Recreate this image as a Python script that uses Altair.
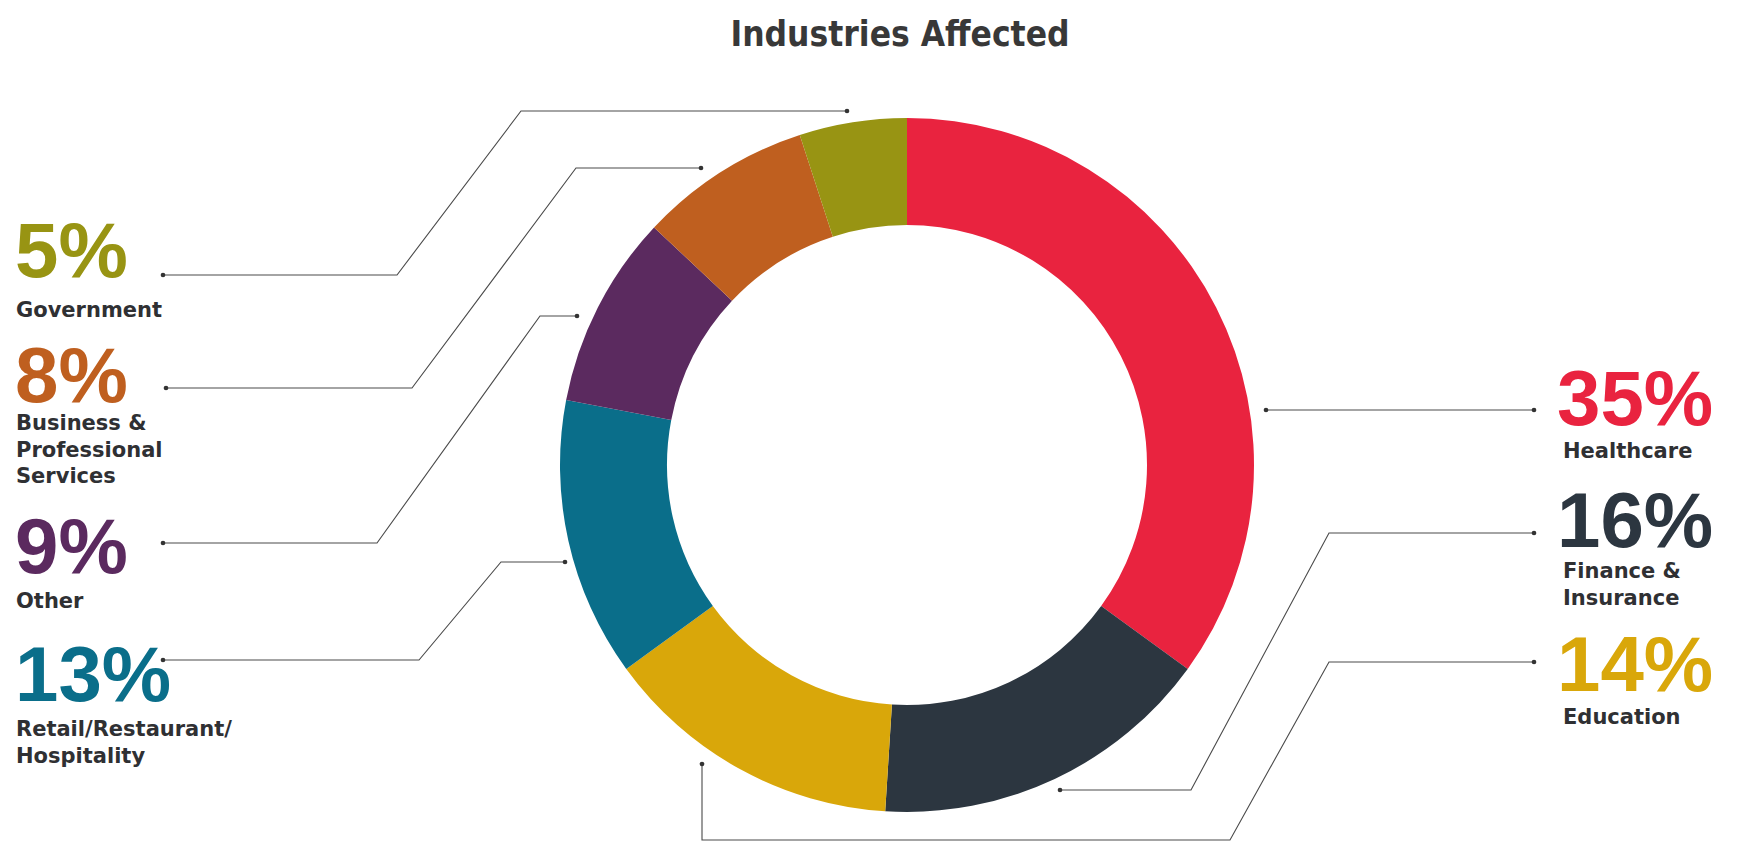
import altair as alt
import pandas as pd

# ---------------- data ----------------
categories = ["Healthcare", "Finance & Insurance", "Education",
              "Retail/Restaurant/Hospitality", "Other",
              "Business & Professional Services", "Government"]
values = [35, 16, 14, 13, 9, 8, 5]
name_lines = ["Healthcare", "Finance &\nInsurance", "Education",
              "Retail/Restaurant/\nHospitality", "Other",
              "Business &\nProfessional\nServices", "Government"]
title_text = "Industries Affected"

# ---------------- styles ----------------
colors = ["#E9233F", "#2C3640", "#D9A70A", "#0A6E8A", "#5B2A5F", "#BF5F1F", "#989413"]

# ---------------- layout (reference pixel coordinates) ----------------
W, H = 1721, 835
CENTER = (907, 465)
R_OUT, R_IN = 347, 240
label_x = [1557, 1557, 1557, 15, 15, 15, 15]
name_x = [1563, 1563, 1563, 16, 16, 16, 16]
pct_base = [425, 547, 691, 701, 573, 402, 277]
name_base = [458, 578, 724, 736, 608, 430, 317]
leader_paths = [
    [(1266, 410), (1534, 410)],
    [(1060, 790), (1191, 790), (1329, 533), (1534, 533)],
    [(702, 764), (702, 840), (1230, 840), (1329, 662), (1534, 662)],
    [(163, 660), (419, 660), (501, 562), (565, 562)],
    [(163, 543), (377, 543), (540, 316), (577, 316)],
    [(166, 388), (412, 388), (576, 168), (701, 168)],
    [(163, 275), (397, 275), (521, 111), (847, 111)],
]
TITLE_POS = (900, 46)

xs = alt.Scale(domain=[8, 8 + W], nice=False, zero=False)
ys = alt.Scale(domain=[8, 8 + H], nice=False, zero=False, reverse=True)
cscale = alt.Scale(domain=categories, range=colors)

# ---------------- tables ----------------
arc_df = pd.DataFrame({"category": categories, "value": values,
                       "idx": list(range(len(categories))),
                       "cx": CENTER[0], "cy": CENTER[1]})

lab_df = pd.DataFrame({"category": categories, "value": values,
                       "name": name_lines, "lx": label_x, "nx": name_x,
                       "py": pct_base, "ny": name_base})

line_rows, dot_rows = [], []
for i, path in enumerate(leader_paths):
    for j, (px, py) in enumerate(path):
        line_rows.append({"lid": i, "seq": j, "px": px, "py": py})
    for (px, py) in (path[0], path[-1]):
        dot_rows.append({"lid": i, "px": px, "py": py})
line_df = pd.DataFrame(line_rows)
dot_df = pd.DataFrame(dot_rows)
title_df = pd.DataFrame({"t": [title_text], "tx": [TITLE_POS[0]], "ty": [TITLE_POS[1]]})

# ---------------- layers ----------------
donut = alt.Chart(arc_df).transform_window(
    cum="sum(value)", sort=[alt.SortField("idx")], frame=[None, 0]
).transform_calculate(
    start="datum.cum - datum.value"
).mark_arc(radius=R_OUT, radius2=R_IN, stroke=None).encode(
    theta=alt.Theta("start:Q", scale=alt.Scale(domain=[0, 100], range=[0, 6.283185307179586]), stack=None),
    theta2="cum:Q",
    x=alt.X("cx:Q", scale=xs, axis=None),
    y=alt.Y("cy:Q", scale=ys, axis=None),
    color=alt.Color("category:N", scale=cscale, legend=None),
)

lines = alt.Chart(line_df).mark_line(color="#4a4a4a", strokeWidth=1.1).encode(
    x=alt.X("px:Q", scale=xs, axis=None),
    y=alt.Y("py:Q", scale=ys, axis=None),
    detail="lid:N",
    order="seq:Q",
)

dots = alt.Chart(dot_df).mark_circle(color="#333333", size=22, opacity=1).encode(
    x=alt.X("px:Q", scale=xs, axis=None),
    y=alt.Y("py:Q", scale=ys, axis=None),
)

pct = alt.Chart(lab_df).transform_calculate(
    label="datum.value + '%'"
).mark_text(align="left", baseline="alphabetic", font="Liberation Sans, Arial, sans-serif",
            fontWeight="bold", fontSize=78).encode(
    x=alt.X("lx:Q", scale=xs, axis=None),
    y=alt.Y("py:Q", scale=ys, axis=None),
    text="label:N",
    color=alt.Color("category:N", scale=cscale, legend=None),
)

names = alt.Chart(lab_df).mark_text(align="left", baseline="alphabetic", font="DejaVu Sans",
                                    fontWeight="bold", fontSize=21, lineBreak="\n",
                                    lineHeight=26.5, color="#2f3033").encode(
    x=alt.X("nx:Q", scale=xs, axis=None),
    y=alt.Y("ny:Q", scale=ys, axis=None),
    text="name:N",
)

title = alt.Chart(title_df).mark_text(align="center", baseline="alphabetic",
                                      font="DejaVu Sans Condensed, Liberation Sans",
                                      fontWeight="bold", fontSize=35, color="#383838").encode(
    x=alt.X("tx:Q", scale=xs, axis=None),
    y=alt.Y("ty:Q", scale=ys, axis=None),
    text="t:N",
)

chart = alt.layer(donut, lines, dots, pct, names, title).properties(
    width=W, height=H,
    autosize=alt.AutoSizeParams(type="none"),
    padding=0,
).configure_view(stroke=None)

chart.save("out.html", embed_options={"renderer": "svg", "actions": False})
